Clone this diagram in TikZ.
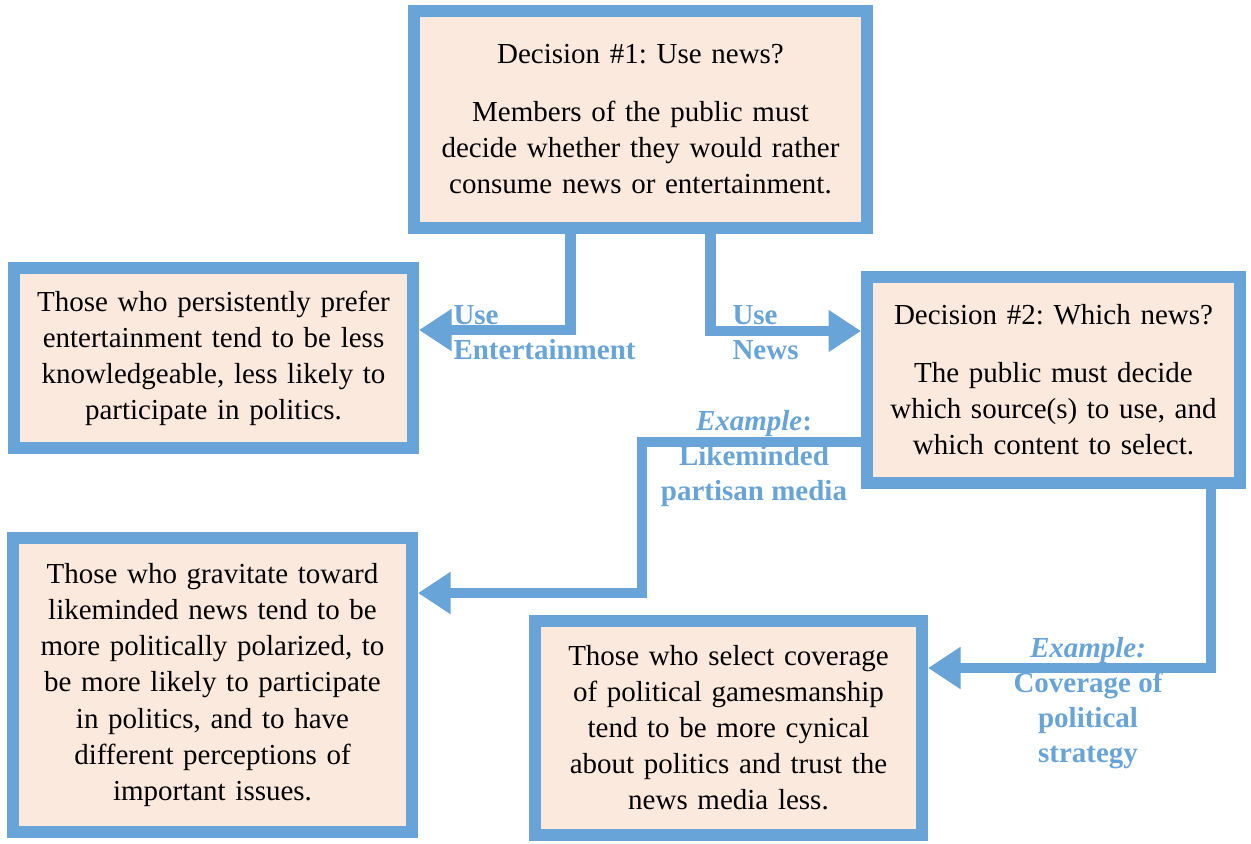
\documentclass[tikz,border=0pt]{standalone}
\usepackage{fontspec}
\setmainfont{Liberation Serif}
\usepackage{tikz}
\usetikzlibrary{arrows.meta,positioning,calc}
\definecolor{boxblue}{RGB}{104,164,216}
\definecolor{boxfill}{RGB}{252,233,222}
\frenchspacing

\begin{document}
\begin{tikzpicture}[x=0.4pt, y=-0.4pt,
    box/.style={draw=boxblue, line width=4.8pt, fill=boxfill, inner sep=0pt, align=center,
        font=\fontsize{11.6}{14.4}\selectfont},
    conn/.style={draw=boxblue, line width=4.2pt, -{Triangle[length=13pt, width=16pt]}},
    lbl/.style={text=boxblue, inner sep=0pt, font=\fontsize{11.6}{14}\selectfont\bfseries}]
    \useasboundingbox (0,0) rectangle (1251,843);

    % Decisions
    \node[box, minimum width=181.2pt, minimum height=86.8pt, text width=170pt] (dec1) at (640.5,119.5)
        {Decision \#1: Use news?\\[8.8pt]Members of the public must\\decide whether they would rather\\consume news or entertainment.\par\vspace*{9.6pt}};
    \node[box, minimum width=149.2pt, minimum height=82.4pt, text width=140pt] (dec2) at (1053.5,380)
        {Decision \#2: Which news?\\[8.8pt]The public must decide\\which source(s) to use, and\\which content to select.\par\vspace*{6pt}};

    % Outcomes
    \node[box, minimum width=159.6pt, minimum height=72pt, text width=150pt] (ent) at (213.5,358)
        {Those who persistently prefer\\entertainment tend to be less\\knowledgeable, less likely to\\participate in politics.};
    \node[box, minimum width=159.6pt, minimum height=117.6pt, text width=150pt] (part) at (212.5,685)
        {Those who gravitate toward\\likeminded news tend to be\\more politically polarized, to\\be more likely to participate\\in politics, and to have\\different perceptions of\\important issues.};
    \node[box, minimum width=154.8pt, minimum height=85.6pt, text width=150pt] (strat) at (728.5,728)
        {Those who select coverage\\of political gamesmanship\\tend to be more cynical\\about politics and trust the\\news media less.};

    % Branches
    \draw[conn] ([xshift=-28pt]dec1.south) |- (ent.east |- 0,330);
    \draw[conn] ([xshift=28pt]dec1.south) |- (dec2.west |- 0,331);
    \draw[conn] (dec2.west |- 0,442) -| (642,593) -- (part.east |- 0,593);
    \draw[conn] (dec2.south -| 1211,0) |- (strat.east |- 0,668);

    \node[lbl, anchor=west, align=left] (useent) at (453,332.5) {Use\\Entertainment};
    \node[lbl, anchor=west, align=left] (usenews) at (732,332.5) {Use\\News};
    \node[lbl, align=center] (exlike) at (754,459) {\textit{Example}:\\Likeminded\\partisan media};
    \node[lbl, align=center] (exstrat) at (1088,703.5) {\textit{Example:}\\Coverage of\\political\\strategy};
\end{tikzpicture}
\end{document}
